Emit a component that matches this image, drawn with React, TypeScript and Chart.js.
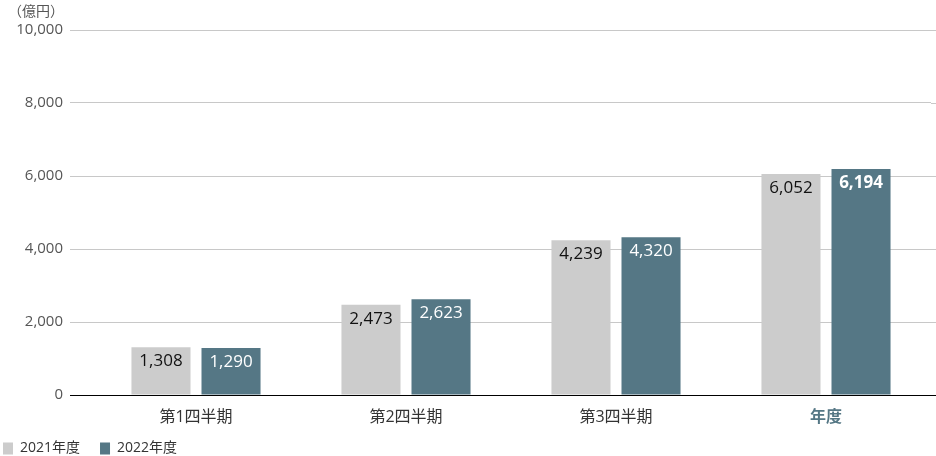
import React, { useEffect, useRef } from "react";
import { Chart, registerables } from "chart.js";

Chart.register(...registerables);

const categories = ["第1四半期", "第2四半期", "第3四半期", "年度"];
const series2021 = [1308, 2473, 4239, 6052];
const series2022 = [1290, 2623, 4320, 6194];
const seriesNames = ["2021年度", "2022年度"];
const yTicks = [0, 2000, 4000, 6000, 8000, 10000];
const unitLabel = "（億円）";

const GRAY = "#cccccc";
const TEAL = "#557785";
const FONT = "'Open Sans', 'Noto Sans CJK JP', sans-serif";

const fmt = (v: number) => v.toLocaleString("en-US");

const dataLabelPlugin = {
  id: "dataLabels",
  afterDatasetsDraw(chart: any) {
    const ctx = chart.ctx;
    chart.data.datasets.forEach((ds: any, di: number) => {
      const meta = chart.getDatasetMeta(di);
      meta.data.forEach((el: any, i: number) => {
        const v = ds.data[i];
        const bold = di === 1 && i === 3;
        ctx.save();
        ctx.font = `${bold ? "bold " : ""}17px ${FONT}`;
        ctx.fillStyle = di === 0 ? "#111" : "#ffffff";
        ctx.textAlign = "center";
        ctx.textBaseline = "middle";
        ctx.fillText(fmt(v), el.x, el.y + 14);
        ctx.restore();
      });
    });
  },
};

const gridExtendPlugin = {
  id: "gridExtend",
  beforeDatasetsDraw(chart: any) {
    const ctx = chart.ctx;
    const y = chart.scales.y;
    const { right } = chart.chartArea;
    ctx.save();
    ctx.lineWidth = 1;
    y.ticks.forEach((t: any) => {
      const py = Math.round(y.getPixelForValue(t.value)) + 0.5;
      ctx.strokeStyle = t.value === 0 ? "#000" : "#c8c8c8";
      ctx.beginPath();
      ctx.moveTo(right, py);
      ctx.lineTo(chart.width, py);
      ctx.stroke();
    });
    ctx.restore();
  },
};

export default function App() {
  const ref = useRef<HTMLCanvasElement>(null);
  useEffect(() => {
    document.body.style.margin = "0";
    const chart = new Chart(ref.current!, {
      type: "bar",
      data: {
        labels: categories,
        datasets: [
          {
            label: seriesNames[0],
            data: series2021,
            backgroundColor: GRAY,
            categoryPercentage: 0.667,
            barPercentage: 0.843,
          },
          {
            label: seriesNames[1],
            data: series2022,
            backgroundColor: TEAL,
            categoryPercentage: 0.667,
            barPercentage: 0.843,
          },
        ],
      },
      options: {
        animation: false,
        responsive: false,
        maintainAspectRatio: false,
        locale: "en-US",
        layout: { padding: { left: -17, right: 5, top: 30, bottom: -9.5 } },
        plugins: {
          tooltip: { enabled: false },
          legend: {
            position: "bottom",
            align: "start",
            labels: {
              boxWidth: 10,
              boxHeight: 12,
              padding: 20,
              color: "#333",
              font: { family: FONT, size: 14 },
            },
          },
        },
        scales: {
          x: {
            grid: { display: false },
            border: { display: false },
            ticks: {
              padding: 5,
              color: (c: any) => (c.index === 3 ? TEAL : "#333"),
              font: (c: any) => ({
                family: FONT,
                size: 16,
                weight: c.index === 3 ? "bold" : "normal",
              }),
            },
            afterFit: (s: any) => {
              s.height = 26.5;
              s._computeLabelArea = () => undefined;
            },
          },
          y: {
            min: yTicks[0],
            max: yTicks[yTicks.length - 1],
            border: { display: false },
            grid: {
              color: (c: any) => (c.tick && c.tick.value === 0 ? "#000" : "#c8c8c8"),
              tickLength: 21,
              drawTicks: true,
            },
            afterBuildTicks: (s: any) => {
              s.ticks = yTicks.map((v) => ({ value: v }));
            },
            ticks: {
              padding: 7,
              color: "#555",
              font: { family: FONT, size: 15 },
              callback: (v: any) => fmt(Number(v)),
            },
            afterFit: (s: any) => {
              s.width = 108;
            },
          },
        },
      },
      plugins: [dataLabelPlugin, gridExtendPlugin],
    } as any);
    return () => chart.destroy();
  }, []);

  return (
    <div style={{ position: "relative", width: 936, height: 456, background: "#fff" }}>
      <canvas ref={ref} width={936} height={456} style={{ width: 936, height: 456, display: "block" }} />
      <div
        style={{
          position: "absolute",
          left: 8,
          top: 1,
          fontFamily: "'Noto Sans CJK JP', sans-serif",
          fontSize: 14,
          color: "#555",
          lineHeight: "18px",
        }}
      >
        {unitLabel}
      </div>
    </div>
  );
}
